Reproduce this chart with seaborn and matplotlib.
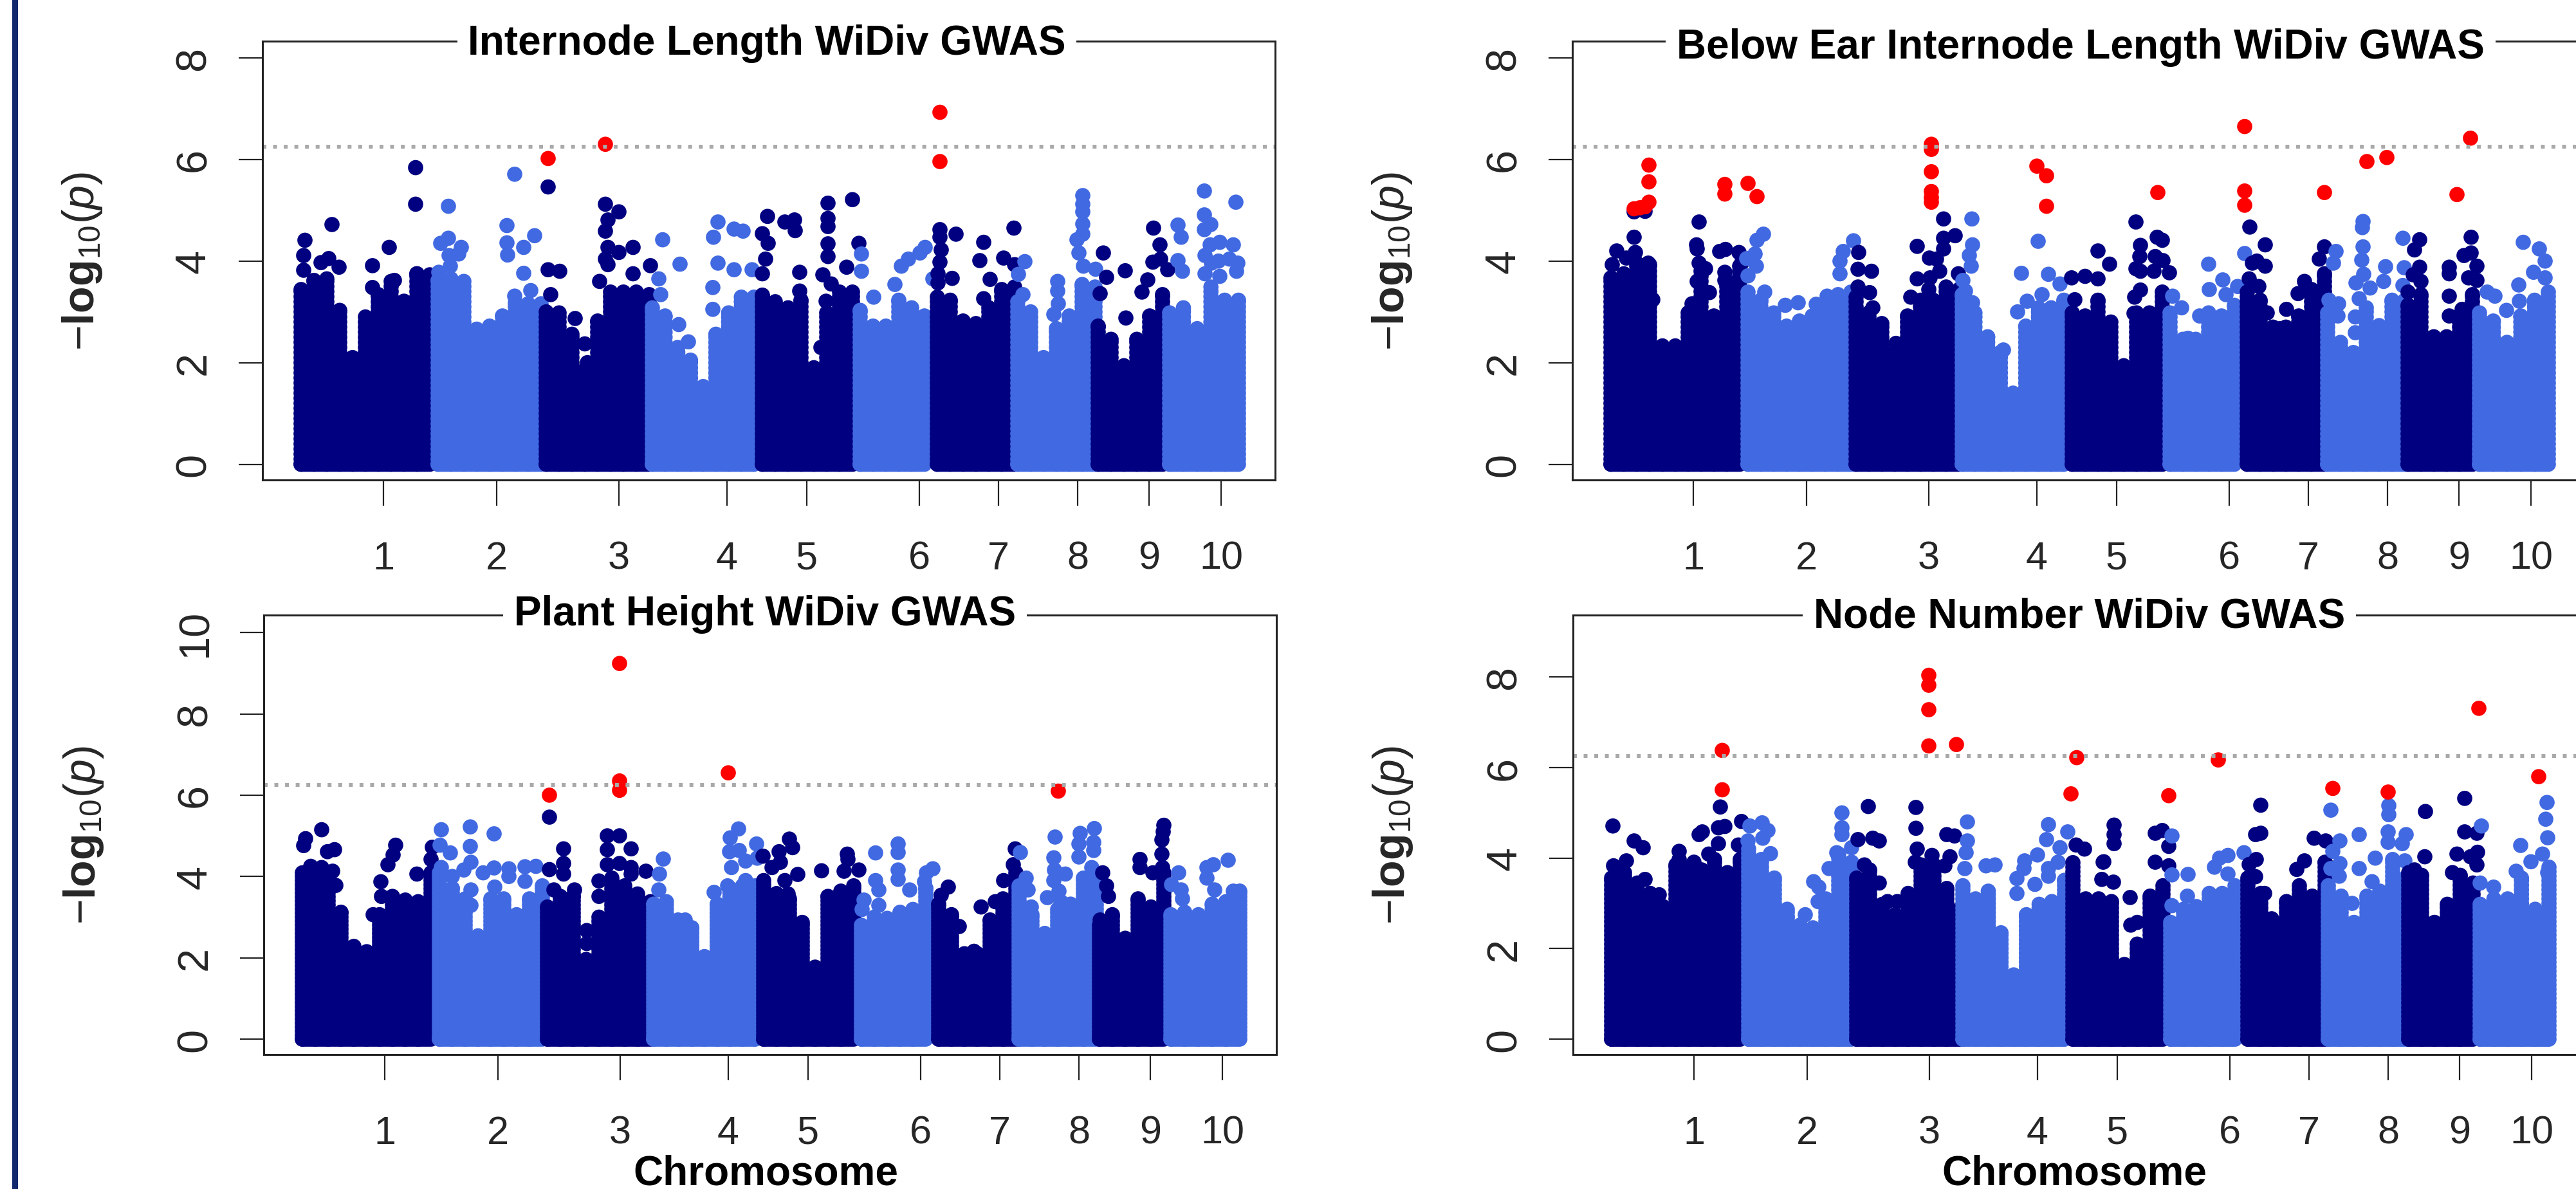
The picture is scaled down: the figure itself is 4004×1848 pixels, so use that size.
#!/usr/bin/env python3
"""Manhattan plots of four WiDiv GWAS traits, values read off the published figure."""

import numpy as np
import pandas as pd
import matplotlib
matplotlib.use('Agg')
import matplotlib.pyplot as plt
from matplotlib.patches import Rectangle
import seaborn as sns

WIDTH, HEIGHT = 4005, 1849
AXIS_SPAN = 1574
THRESHOLD = 6.25

NAVY = '#000080'
ROYAL = '#4169E1'
RED = '#FF0000'

CHROM_LABELS = ['1', '2', '3', '4', '5', '6', '7', '8', '9', '10']
TICK_POS = [188, 364, 554, 722, 846, 1021, 1144, 1267, 1378, 1490]
# first and last binned position of each chromosome, and the dot assignment edges
CHROM_FIRST = [60, 273, 441, 606, 777, 929, 1049, 1174, 1299, 1410]
CHROM_LAST = [260, 433, 601, 764, 917, 1029, 1169, 1294, 1399, 1517]
CHROM_EDGES = [270, 438, 605, 773, 929, 1047, 1172, 1297, 1409]

# Highest solid -log10(p) in each bin, per chromosome
il_tops = [
    [3.44, 3.62, 3.65, 3.03, 2.10, 2.90, 3.34, 3.60, 3.21, 3.75, 3.73],
    [3.62, 3.65, 3.60, 2.66, 2.72, 2.92, 3.18, 3.16, 3.16],
    [3.00, 2.98, 2.56, 1.86, 2.82, 3.39, 3.39, 3.39, 3.34],
    [3.08, 2.92, 2.30, 2.05, 1.53, 2.56, 2.98, 3.29, 3.29],
    [3.33, 3.20, 3.08, 3.23, 1.90, 2.98, 3.39, 3.39],
    [3.03, 2.72, 2.72, 3.23, 3.08, 2.92],
    [3.29, 3.23, 2.82, 2.77, 3.08, 3.44, 3.49],
    [3.20, 3.00, 2.10, 2.67, 2.92, 3.54, 3.49],
    [2.72, 2.46, 1.94, 2.46, 2.92, 3.34],
    [2.98, 3.08, 2.67, 3.49, 3.23, 3.23],
]
be_tops = [
    [3.67, 3.75, 3.96, 3.93, 2.33, 2.33, 2.98, 3.80, 2.92, 3.60, 3.90],
    [3.39, 3.23, 2.98, 2.72, 2.82, 2.92, 3.08, 3.34, 3.39],
    [3.29, 2.98, 2.77, 2.20, 2.92, 3.23, 3.23, 3.49, 3.44],
    [3.34, 2.98, 2.51, 2.20, 1.40, 2.72, 3.08, 3.08, 3.23],
    [2.98, 2.92, 3.23, 2.80, 1.94, 2.98, 2.98, 3.39],
    [2.98, 2.46, 2.46, 2.98, 2.92, 3.13],
    [3.39, 3.23, 2.70, 2.70, 2.92, 3.44, 3.75],
    [2.98, 2.40, 2.20, 3.08, 2.73, 3.23, 3.23],
    [3.13, 3.34, 2.51, 2.51, 2.92, 3.34],
    [2.98, 2.82, 2.40, 2.92, 3.23, 3.39],
]
ph_tops = [
    [4.09, 4.03, 4.03, 3.12, 2.28, 2.15, 3.06, 3.51, 3.42, 3.38, 4.09],
    [4.09, 3.71, 3.45, 2.54, 3.45, 3.45, 3.06, 3.45, 3.77],
    [3.25, 3.51, 3.51, 1.96, 3.00, 3.96, 3.77, 3.57, 3.38],
    [3.32, 3.38, 2.74, 2.74, 2.03, 3.32, 3.71, 3.77, 3.77],
    [3.90, 3.58, 3.45, 2.87, 1.77, 3.51, 3.64, 3.77],
    [2.80, 3.00, 2.97, 3.12, 3.19, 3.71],
    [3.32, 3.06, 2.10, 2.10, 2.93, 3.45, 4.09],
    [3.77, 3.06, 2.60, 3.19, 3.32, 3.96, 4.03],
    [2.80, 3.06, 2.48, 3.45, 3.25, 4.09],
    [3.06, 3.12, 3.06, 3.32, 3.38, 3.64],
]
nn_tops = [
    [3.56, 3.68, 3.45, 3.22, 2.93, 3.85, 3.80, 3.74, 3.97, 3.68, 3.97],
    [4.20, 3.97, 3.56, 2.87, 2.52, 2.46, 3.10, 4.09, 3.91],
    [3.56, 3.74, 2.98, 2.75, 3.22, 3.85, 3.85, 3.33, 2.87],
    [3.39, 3.10, 3.27, 2.35, 1.42, 2.75, 2.98, 3.04, 3.51],
    [3.90, 3.10, 3.10, 3.04, 1.65, 2.10, 3.16, 3.39],
    [2.58, 2.87, 2.93, 3.22, 3.22, 3.39],
    [3.56, 3.22, 2.58, 3.04, 3.39, 3.16, 3.91],
    [3.39, 3.16, 2.58, 3.16, 3.27, 3.97, 3.56],
    [3.68, 3.62, 2.58, 2.98, 3.62, 3.45],
    [2.98, 3.10, 3.10, 3.56, 2.87, 3.80],
]

# Individually visible SNPs above the solid mass (position, -log10(p))
il_snps = [
    (66, 4.41), (64, 4.11), (64, 3.82), (108, 4.72), (91, 3.97), (103, 4.05), (119, 3.88),
    (171, 3.91), (197, 4.27), (171, 3.48), (205, 3.62), (240, 3.75), (238, 5.84), (238, 5.12),
    (289, 5.08), (277, 4.35), (289, 4.45), (309, 4.27), (305, 4.14), (290, 4.11), (292, 3.90),
    (274, 3.78), (392, 5.71), (380, 4.70), (380, 4.36), (381, 4.12), (406, 4.27), (423, 4.50),
    (406, 3.76), (392, 3.31), (417, 3.42),
    (444, 5.46), (444, 3.83), (462, 3.80), (448, 3.34), (486, 2.87), (501, 2.37), (505, 2.00),
    (533, 5.12), (554, 4.97), (537, 4.81), (533, 4.59), (537, 4.27), (554, 4.17), (576, 4.27),
    (533, 4.04), (537, 3.93), (524, 3.60), (603, 3.91), (576, 3.75),
    (616, 3.65), (619, 3.34), (622, 4.42), (649, 3.94), (647, 2.75), (662, 2.41), (708, 4.77),
    (701, 4.47), (733, 4.63), (747, 4.59), (708, 3.96), (733, 3.83), (761, 3.83), (700, 3.48),
    (700, 3.05),
    (785, 4.88), (812, 4.77), (827, 4.81), (777, 4.54), (786, 4.35), (782, 4.04), (777, 3.75),
    (828, 4.60), (835, 3.78), (879, 5.14), (879, 4.84), (879, 4.68), (879, 4.34), (879, 4.09),
    (871, 3.73), (884, 3.55), (908, 3.88), (917, 5.21), (927, 4.35), (835, 3.41), (876, 3.21),
    (868, 2.30),
    (931, 4.14), (931, 3.80), (950, 3.29), (983, 3.54), (993, 3.90), (1004, 4.04), (1022, 4.16),
    (1030, 4.27), (1042, 3.65),
    (1053, 4.62), (1053, 4.47), (1055, 4.22), (1053, 3.98), (1050, 3.75), (1050, 3.57),
    (1078, 4.53), (1072, 3.66), (1121, 4.37), (1115, 4.01), (1152, 4.06), (1168, 4.65),
    (1131, 3.64), (1121, 3.26), (1169, 3.93),
    (1185, 3.99), (1175, 3.74), (1182, 3.34), (1236, 3.60), (1236, 3.41), (1237, 3.16),
    (1230, 2.95), (1275, 5.29), (1275, 5.12), (1275, 4.97), (1275, 4.73), (1275, 4.53),
    (1266, 4.42), (1269, 4.16), (1276, 3.90), (1295, 3.84),
    (1307, 4.16), (1312, 3.68), (1341, 3.81), (1302, 3.36), (1342, 2.88), (1376, 3.63),
    (1367, 3.39), (1385, 4.65), (1395, 4.32), (1384, 3.98), (1396, 4.04), (1407, 3.83),
    (1423, 4.71), (1428, 4.47), (1423, 4.01), (1430, 3.80), (1464, 5.38), (1464, 4.91),
    (1474, 4.72), (1464, 4.62), (1513, 5.16), (1465, 4.11), (1473, 4.32), (1488, 4.37),
    (1509, 4.32), (1503, 4.04), (1516, 3.96), (1486, 4.00), (1475, 3.96), (1514, 3.80),
    (1488, 3.70), (1465, 3.75),
]
be_snps = [
    (96, 4.97), (113, 4.98), (96, 4.47), (69, 4.20), (84, 4.06), (98, 4.17), (62, 3.93),
    (118, 3.96), (125, 3.24), (197, 4.77), (193, 4.32), (194, 4.24), (197, 3.96), (207, 3.85),
    (194, 3.60), (213, 3.38), (186, 3.16), (181, 2.90), (229, 4.19), (238, 4.23), (259, 4.17),
    (237, 3.78), (237, 3.62), (263, 3.96),
    (297, 4.53), (287, 4.41), (284, 4.14), (271, 4.05), (286, 3.90), (273, 3.71), (299, 3.39),
    (331, 3.13), (351, 3.18), (379, 3.15), (396, 3.31), (421, 4.19), (416, 4.00), (416, 3.75),
    (437, 4.40),
    (445, 4.17), (444, 3.84), (465, 3.80), (462, 3.38), (444, 3.49), (467, 3.08), (503, 2.38),
    (536, 4.29), (577, 4.83), (577, 4.45), (595, 4.50), (577, 4.24), (555, 4.06), (566, 4.04),
    (571, 3.80), (556, 3.67), (536, 3.65), (554, 3.44), (526, 3.29), (600, 3.75),
    (621, 4.83), (622, 4.32), (617, 4.11), (620, 3.90), (607, 3.62), (611, 3.41), (622, 3.18),
    (724, 4.39), (698, 3.76), (740, 3.74), (758, 3.55), (730, 3.34), (707, 3.21), (692, 3.00),
    (670, 2.25),
    (817, 4.20), (835, 3.94), (776, 3.67), (797, 3.70), (817, 3.65), (781, 3.24), (876, 4.77),
    (883, 4.31), (882, 4.09), (876, 3.85), (883, 3.80), (909, 4.47), (917, 4.41), (906, 4.09),
    (918, 4.01), (928, 3.77), (904, 3.80), (883, 3.43), (874, 3.29), (873, 2.97),
    (933, 3.31), (947, 3.08), (989, 3.94), (1011, 3.63), (990, 3.44), (1016, 3.34), (1034, 3.50),
    (975, 2.92), (957, 2.48), (1045, 4.15),
    (1053, 4.67), (1077, 4.32), (1064, 4.00), (1057, 3.96), (1077, 3.90), (1052, 3.65),
    (1067, 3.50), (1080, 2.98), (1110, 3.05), (1100, 2.67), (1169, 4.28), (1161, 4.04),
    (1138, 3.60), (1128, 3.36),
    (1187, 4.19), (1183, 3.96), (1176, 3.23), (1191, 3.16), (1190, 2.92), (1217, 2.59),
    (1229, 4.78), (1228, 4.66), (1229, 4.28), (1227, 4.02), (1230, 3.74), (1218, 3.57),
    (1240, 3.47), (1223, 3.26), (1217, 2.90), (1264, 3.89), (1261, 3.60), (1291, 4.45),
    (1293, 3.87), (1291, 3.52),
    (1317, 4.42), (1309, 4.22), (1317, 3.88), (1307, 3.73), (1319, 3.60), (1299, 3.39),
    (1363, 3.88), (1363, 3.75), (1363, 3.31), (1397, 4.47), (1397, 4.16), (1386, 4.11),
    (1406, 3.90), (1393, 3.67), (1406, 3.62), (1363, 2.92), (1383, 3.05),
    (1478, 4.37), (1503, 4.24), (1512, 4.00), (1512, 3.67), (1494, 3.78), (1471, 3.53),
    (1434, 3.31), (1422, 3.39), (1452, 3.03), (1472, 3.21),
]
ph_snps = [
    (90, 5.15), (65, 4.93), (62, 4.76), (99, 4.61), (110, 4.66), (73, 4.25), (90, 4.22),
    (107, 4.13), (112, 3.78), (205, 4.77), (201, 4.53), (193, 4.29), (238, 4.06), (182, 3.87),
    (183, 3.51), (170, 3.06), (262, 4.72), (260, 4.42),
    (276, 5.15), (274, 4.77), (290, 4.58), (276, 4.22), (293, 4.00), (321, 5.22), (321, 4.74),
    (322, 4.35), (311, 4.16), (341, 4.09), (358, 5.05), (358, 4.21), (381, 4.19), (381, 4.00),
    (406, 4.24), (423, 4.25), (406, 3.88), (359, 3.74), (322, 3.67), (322, 3.29),
    (444, 5.46), (444, 4.17), (466, 4.68), (466, 4.32), (466, 4.06), (451, 3.67), (483, 3.67),
    (502, 2.67), (502, 2.35), (534, 5.00), (553, 5.00), (534, 4.66), (571, 4.68), (534, 4.29),
    (553, 4.32), (571, 4.22), (571, 4.06), (521, 3.89), (521, 3.51), (594, 4.13),
    (621, 4.43), (615, 4.06), (614, 3.67), (644, 2.93), (655, 2.93), (700, 3.61), (738, 5.17),
    (725, 4.95), (724, 4.61), (739, 4.64), (766, 4.80), (727, 4.22), (749, 4.38), (767, 4.45),
    (749, 3.90), (721, 3.77),
    (776, 4.50), (790, 4.22), (801, 4.61), (803, 4.35), (817, 4.92), (822, 4.71), (830, 4.05),
    (810, 3.90), (867, 4.14), (908, 4.42), (925, 4.16), (902, 4.13), (907, 4.55), (815, 3.57),
    (951, 4.58), (986, 4.80), (986, 4.59), (951, 3.90), (956, 3.67), (986, 4.16), (986, 3.93),
    (956, 3.29), (933, 3.42), (1030, 4.09), (1040, 4.19), (1027, 3.87), (1004, 3.67), (930, 3.19),
    (1064, 3.74), (1053, 3.54), (1115, 3.25), (1081, 2.77), (1104, 2.16), (1168, 4.68),
    (1165, 4.29), (1150, 3.90), (1137, 3.38),
    (1176, 4.59), (1185, 3.96), (1188, 3.67), (1193, 3.25), (1230, 4.97), (1228, 4.46),
    (1229, 4.16), (1228, 3.90), (1246, 4.06), (1236, 3.64), (1239, 3.38), (1218, 3.48),
    (1269, 5.06), (1267, 4.80), (1291, 5.18), (1290, 4.84), (1290, 4.64), (1267, 4.48),
    (1287, 4.22),
    (1304, 4.09), (1310, 3.77), (1313, 3.51), (1362, 4.42), (1362, 4.22), (1382, 4.09),
    (1399, 5.26), (1398, 5.10), (1396, 4.90), (1396, 4.55), (1397, 4.22), (1300, 2.93),
    (1422, 4.09), (1411, 3.80), (1426, 3.67), (1428, 3.45), (1466, 3.96), (1466, 4.22),
    (1476, 4.29), (1499, 4.40), (1478, 3.67), (1507, 3.64), (1512, 3.45),
]
nn_snps = [
    (62, 4.71), (95, 4.38), (109, 4.23), (83, 3.94), (63, 3.83), (112, 3.53), (134, 3.19),
    (165, 4.15), (165, 3.97), (188, 3.91), (196, 4.52), (201, 4.58), (229, 5.13), (226, 4.67),
    (236, 4.70), (226, 4.32), (211, 4.09), (262, 4.81), (257, 4.29),
    (275, 4.71), (294, 4.78), (303, 4.61), (272, 4.38), (295, 4.44), (307, 4.10), (418, 5.00),
    (418, 4.67), (418, 4.52), (433, 4.23), (410, 4.12), (398, 3.77), (374, 3.48), (382, 3.36),
    (381, 3.04), (361, 2.75), (333, 2.69),
    (459, 5.14), (443, 4.41), (466, 4.44), (476, 4.38), (453, 3.85), (476, 3.45), (533, 5.12),
    (533, 4.66), (535, 4.20), (558, 4.06), (532, 3.91), (581, 4.52), (593, 4.49), (586, 4.03),
    (578, 3.83), (489, 3.04), (504, 3.04),
    (613, 4.80), (613, 4.38), (611, 4.12), (609, 3.77), (642, 3.83), (656, 3.85), (739, 4.74),
    (736, 4.41), (722, 4.07), (757, 4.23), (702, 3.94), (701, 3.77), (690, 3.55), (690, 3.22),
    (718, 3.42), (739, 3.77), (739, 3.60), (754, 3.91), (769, 4.58),
    (782, 4.29), (795, 4.20), (824, 3.91), (841, 4.73), (841, 4.52), (841, 4.32), (825, 3.92),
    (822, 3.53), (840, 3.47), (866, 3.13), (905, 4.55), (916, 4.61), (926, 4.26), (905, 3.91),
    (926, 3.83), (867, 2.52), (877, 2.58),
    (931, 4.49), (931, 3.63), (956, 3.64), (955, 3.16), (931, 2.95), (1005, 4.00), (1018, 4.06),
    (997, 3.80), (1043, 4.12), (1018, 3.65),
    (1069, 5.17), (1069, 4.55), (1061, 4.52), (1062, 3.97), (1051, 3.86), (1061, 3.59),
    (1075, 3.22), (1152, 4.44), (1137, 3.94), (1125, 3.75), (1086, 2.66), (1170, 4.38),
    (1178, 5.06), (1192, 4.38), (1181, 4.15), (1192, 3.88), (1178, 3.77), (1191, 3.60),
    (1222, 4.52), (1222, 3.77), (1242, 3.48), (1247, 4.00), (1268, 5.16), (1268, 4.96),
    (1267, 4.58), (1267, 4.35), (1295, 4.52), (1289, 4.32), (1293, 3.94), (1211, 3.00),
    (1325, 5.03), (1324, 4.03), (1308, 3.74), (1386, 5.32), (1386, 4.58), (1405, 4.55),
    (1374, 4.09), (1406, 4.13), (1395, 4.03), (1405, 3.85), (1367, 3.68),
    (1412, 4.71), (1473, 4.28), (1514, 5.23), (1512, 4.86), (1515, 4.45), (1507, 4.09),
    (1489, 3.92), (1466, 3.71), (1410, 3.45), (1431, 3.36), (1515, 3.68),
]

# SNPs highlighted in red
il_hits = [(444, 6.02), (533, 6.30), (1053, 6.93), (1053, 5.96)]
be_hits = [
    (96, 5.03), (105, 5.05), (113, 5.07), (119, 5.16), (119, 5.56), (119, 5.89), (237, 5.51),
    (237, 5.32), (273, 5.53), (287, 5.27), (558, 6.30), (558, 6.20), (558, 5.76), (558, 5.37),
    (558, 5.25), (558, 5.16), (722, 5.87), (737, 5.68), (737, 5.08), (910, 5.35), (1045, 6.65),
    (1045, 5.38), (1045, 5.10), (1169, 5.35), (1235, 5.96), (1266, 6.04), (1375, 5.31),
    (1396, 6.42),
]
ph_hits = [(444, 6.00), (553, 9.24), (553, 6.35), (553, 6.12), (722, 6.55), (1235, 6.10)]
nn_hits = [
    (232, 6.38), (232, 5.51), (553, 8.04), (553, 7.82), (553, 7.28), (553, 6.48), (596, 6.51),
    (783, 6.22), (774, 5.42), (926, 5.38), (1003, 6.17), (1181, 5.54), (1267, 5.46),
    (1408, 7.31), (1501, 5.80),
]


def panel_frame(tops, snps, hits):
    """Build one long table: stacked bins and single SNPs chromosome by chromosome, hits last."""
    rows = []
    snp_chrom = np.searchsorted(CHROM_EDGES, [pos for pos, _ in snps])
    for chrom, chrom_tops in enumerate(tops):
        group = 'dark' if chrom % 2 == 0 else 'light'
        # SNPs near p = 1 run unbroken along each chromosome
        for pos in np.arange(CHROM_FIRST[chrom], CHROM_LAST[chrom], 4):
            rows.append((pos, 0.0, group))
        positions = np.linspace(CHROM_FIRST[chrom], CHROM_LAST[chrom], len(chrom_tops))
        for pos, top in zip(positions, chrom_tops):
            for value in np.append(np.arange(0, top, 0.1), top):
                rows.append((pos, value, group))
        for (pos, value), owner in zip(snps, snp_chrom):
            if owner == chrom:
                rows.append((pos, value, group))
    rows += [(pos, value, 'hit') for pos, value in hits]
    return pd.DataFrame(rows, columns=['position', 'logp', 'group'])


def px_axes(fig, left, top, right, bottom):
    """Add an axes from pixel edges measured on the reference."""
    return fig.add_axes([left / WIDTH, 1 - bottom / HEIGHT,
                         (right - left) / WIDTH, (bottom - top) / HEIGHT])


def draw_panel(fig, box, ylim, yticks, title, title_xy, tops, snps, hits):
    ax = px_axes(fig, *box)
    sns.scatterplot(data=panel_frame(tops, snps, hits), x='position', y='logp', hue='group',
                    palette={'dark': NAVY, 'light': ROYAL, 'hit': RED},
                    s=290, linewidth=0, legend=False, ax=ax, zorder=1)
    ax.axhline(THRESHOLD, color='#A9A9A9', lw=4.3, linestyle=(0, (1, 1.77)), zorder=2)
    ax.set_xlim(0, AXIS_SPAN)
    ax.set_ylim(*ylim)
    ax.set_xticks(TICK_POS, CHROM_LABELS)
    ax.set_yticks(yticks, [str(t) for t in yticks])
    ax.set_xlabel('')
    ax.set_ylabel(r'$-\mathbf{log}_{10}(\mathit{p})$', fontsize=49)
    ax.yaxis.set_label_coords(-0.156, 0.5)
    ax.tick_params(axis='x', bottom=True, length=28.5, width=1.6, color='#222222', pad=39,
                   labelsize=44)
    ax.tick_params(axis='y', left=True, length=27, width=1.6, color='#222222', pad=27,
                   labelsize=48, labelrotation=90)
    for label in ax.get_yticklabels():
        label.set_va('center')
    for spine in ax.spines.values():
        spine.set_visible(True)
        spine.set_linewidth(2.2)
        spine.set_color('#222222')
    fig.text(title_xy[0] / WIDTH, 1 - title_xy[1] / HEIGHT, title, ha='center', va='center',
             fontsize=46, fontweight='bold', color='black', zorder=5,
             bbox=dict(facecolor='white', edgecolor='none', pad=12))
    return ax


def main():
    sns.set_style('white')
    plt.rcParams['font.family'] = ['Liberation Sans', 'DejaVu Sans']
    plt.rcParams['mathtext.fontset'] = 'custom'
    plt.rcParams['mathtext.rm'] = 'Liberation Sans'
    plt.rcParams['mathtext.it'] = 'Liberation Sans:italic'
    plt.rcParams['mathtext.bf'] = 'Liberation Sans:bold'

    fig = plt.figure(figsize=(WIDTH / 100, HEIGHT / 100), dpi=100, facecolor='white')

    draw_panel(fig, (408, 65, 1982, 747), (-0.31, 8.33), [0, 2, 4, 6, 8],
               'Internode Length WiDiv GWAS', (1192, 68), il_tops, il_snps, il_hits)
    draw_panel(fig, (2444, 65, 4018, 747), (-0.31, 8.33), [0, 2, 4, 6, 8],
               'Below Ear Internode Length WiDiv GWAS', (3234, 74), be_tops, be_snps, be_hits)
    draw_panel(fig, (410, 957, 1984, 1640), (-0.38, 10.43), [0, 2, 4, 6, 8, 10],
               'Plant Height WiDiv GWAS', (1189, 955), ph_tops, ph_snps, ph_hits)
    draw_panel(fig, (2445, 957, 4019, 1640), (-0.34, 9.37), [0, 2, 4, 6, 8],
               'Node Number WiDiv GWAS', (3232, 959), nn_tops, nn_snps, nn_hits)

    for x_px in (1190, 3224):
        fig.text(x_px / WIDTH, 1 - 1825 / HEIGHT, 'Chromosome', ha='center', va='center',
                 fontsize=46, fontweight='bold', color='black')

    # slide border on the left edge of the source image
    fig.add_artist(Rectangle((19 / WIDTH, 0), 9 / WIDTH, 1, transform=fig.transFigure,
                             facecolor='#12296E', edgecolor='none'))

    fig.savefig('out.png', dpi=100)
    plt.close(fig)


if __name__ == "__main__":
    main()
